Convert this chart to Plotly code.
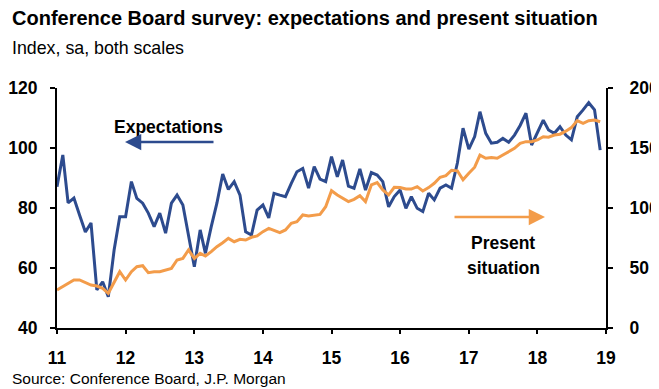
import pandas as pd
import plotly.graph_objects as go

# ---- data (monthly, Jan 2011 - Dec 2018) ----
months = pd.date_range("2011-01-01", periods=96, freq="MS")

expectations = [
    87.1, 97.7, 81.7, 83.3, 77.7, 72.0, 75.0, 52.7, 55.4, 50.4, 66.0, 77.1,   # 2011
    77.1, 88.8, 83.2, 81.6, 78.3, 73.8, 78.3, 71.6, 81.6, 84.3, 81.0, 70.4,   # 2012
    60.4, 72.7, 64.9, 73.8, 81.6, 91.3, 86.2, 88.8, 84.3, 72.1, 71.0, 79.3,   # 2013
    81.0, 76.7, 84.9, 84.3, 83.8, 88.2, 92.1, 93.2, 86.6, 93.8, 89.6, 88.8,   # 2014
    97.1, 90.4, 96.0, 87.3, 86.6, 93.0, 86.0, 91.8, 91.0, 88.8, 80.4, 83.8,   # 2015
    86.0, 79.9, 83.8, 79.9, 78.8, 84.9, 82.7, 86.6, 87.7, 86.6, 95.0, 106.6,  # 2016
    99.6, 103.8, 112.1, 104.9, 101.6, 101.9, 103.2, 101.9, 104.3, 107.5, 111.6, 101.0,  # 2017
    104.9, 109.3, 106.0, 104.9, 107.1, 104.3, 102.7, 110.4, 112.7, 115.1, 112.7, 99.3,  # 2018
]

present_situation = [
    31.7, 34.4, 37.2, 40.0, 40.0, 37.8, 35.8, 35.0, 33.0, 28.9, 38.6, 46.9,   # 2011
    40.0, 46.9, 51.1, 51.9, 46.1, 46.9, 46.9, 48.3, 49.7, 56.7, 58.0, 65.0,   # 2012
    58.0, 62.2, 60.0, 63.6, 67.8, 71.1, 74.7, 71.9, 73.9, 73.3, 75.6, 76.7,   # 2013
    80.3, 83.0, 81.5, 79.4, 81.7, 87.2, 88.6, 94.2, 93.3, 94.2, 94.7, 101.1,  # 2014
    114.4, 110.8, 108.1, 105.3, 107.2, 110.3, 105.3, 119.2, 121.1, 115.0, 111.0, 117.2,  # 2015
    117.0, 115.8, 115.8, 117.8, 114.2, 117.0, 120.6, 125.6, 127.0, 131.5, 131.0, 123.5,  # 2016
    129.0, 134.0, 144.0, 141.4, 142.0, 141.4, 144.2, 146.9, 149.7, 153.9, 155.3, 155.3,  # 2017
    156.7, 159.4, 159.0, 160.8, 161.5, 164.0, 167.0, 172.8, 170.6, 172.8, 173.3, 171.9,  # 2018
]

year_ticks = pd.date_range("2011-01-01", "2019-01-01", freq="YS")
year_labels = ["11", "12", "13", "14", "15", "16", "17", "18", "19"]

left_ticks = [40, 60, 80, 100, 120]
right_ticks = [0, 50, 100, 150, 200]

BLUE = "#2D4B8E"
ORANGE = "#F39C4A"
FONT = "Liberation Sans, Arial, sans-serif"

fig = go.Figure()
fig.add_trace(go.Scatter(x=months, y=expectations, mode="lines",
                         line=dict(color=BLUE, width=3), yaxis="y", name="Expectations"))
fig.add_trace(go.Scatter(x=months, y=present_situation, mode="lines",
                         line=dict(color=ORANGE, width=3), yaxis="y2", name="Present situation"))

# the page body adds an 8px offset; work in figure pixel coordinates
OFF = 8
W, H = 659 - OFF, 389 - OFF
L, R, T, B = 57 - OFF, 606 - OFF, 88 - OFF, 328 - OFF
pw, ph = R - L, B - T


def px(xp):  # xp given in page pixels
    return (xp - OFF - L) / pw


def py(yp):
    return (B - (yp - OFF)) / ph


tickfont = dict(family=FONT, size=17.5, color="black", weight="bold")

fig.update_layout(
    width=W, height=H,
    margin=dict(l=L, r=W - R, t=T, b=H - B, pad=0, autoexpand=False),
    paper_bgcolor="white", plot_bgcolor="white",
    showlegend=False,
    font=dict(family=FONT, color="black"),
    xaxis=dict(
        type="date", range=["2011-01-01", "2019-01-01"],
        tickvals=list(year_ticks), ticktext=year_labels,
        showgrid=False, zeroline=False, automargin=False,
        showline=True, linecolor="black", linewidth=2,
        ticks="outside", ticklen=4, tickwidth=1.5, tickcolor="black",
        tickfont=tickfont, ticklabelstandoff=9,
    ),
    yaxis=dict(
        range=[40, 120], tickvals=left_ticks,
        showgrid=False, zeroline=False, automargin=False,
        showline=True, linecolor="black", linewidth=2,
        ticks="outside", ticklen=5, tickwidth=1.5, tickcolor="black",
        tickfont=tickfont, ticklabelstandoff=9,
    ),
    yaxis2=dict(
        range=[0, 200], tickvals=right_ticks, overlaying="y", side="right",
        showgrid=False, zeroline=False, automargin=False,
        showline=True, linecolor="black", linewidth=2,
        ticks="outside", ticklen=5, tickwidth=1.5, tickcolor="black",
        tickfont=tickfont, ticklabelstandoff=13,
    ),
)

ann = []
ann.append(dict(text="Conference Board survey: expectations and present situation",
                xref="paper", yref="paper", x=px(10), y=py(18), xanchor="left", yanchor="middle",
                showarrow=False, font=dict(family=FONT, size=20, color="black", weight="bold")))
ann.append(dict(text="Index, sa, both scales",
                xref="paper", yref="paper", x=px(10), y=py(48), xanchor="left", yanchor="middle",
                showarrow=False, font=dict(family=FONT, size=17.8, color="black")))
ann.append(dict(text="Source: Conference Board, J.P. Morgan",
                xref="paper", yref="paper", x=px(10), y=py(378), xanchor="left", yanchor="middle",
                showarrow=False, font=dict(family=FONT, size=15.5, color="black")))
labfont = dict(family=FONT, size=17.5, color="black", weight="bold")
ann.append(dict(text="Expectations", xref="paper", yref="paper", x=px(168), y=py(127),
                xanchor="center", yanchor="middle", showarrow=False, font=labfont))
ann.append(dict(text="Present", xref="paper", yref="paper", x=px(503), y=py(243),
                xanchor="center", yanchor="middle", showarrow=False, font=labfont))
ann.append(dict(text="situation", xref="paper", yref="paper", x=px(503), y=py(268),
                xanchor="center", yanchor="middle", showarrow=False, font=labfont))
# arrows
ann.append(dict(text="", xref="paper", yref="paper", x=px(125), y=py(142), ax=90, ay=0,
                showarrow=True, arrowhead=2, arrowsize=1.3, arrowwidth=2.5, arrowcolor=BLUE,
                standoff=0, startstandoff=0))
ann.append(dict(text="", xref="paper", yref="paper", x=px(545), y=py(217), ax=-92, ay=0,
                showarrow=True, arrowhead=2, arrowsize=1.3, arrowwidth=2.5, arrowcolor=ORANGE,
                standoff=0, startstandoff=0))
fig.update_layout(annotations=ann)

fig.write_html("out.html")
